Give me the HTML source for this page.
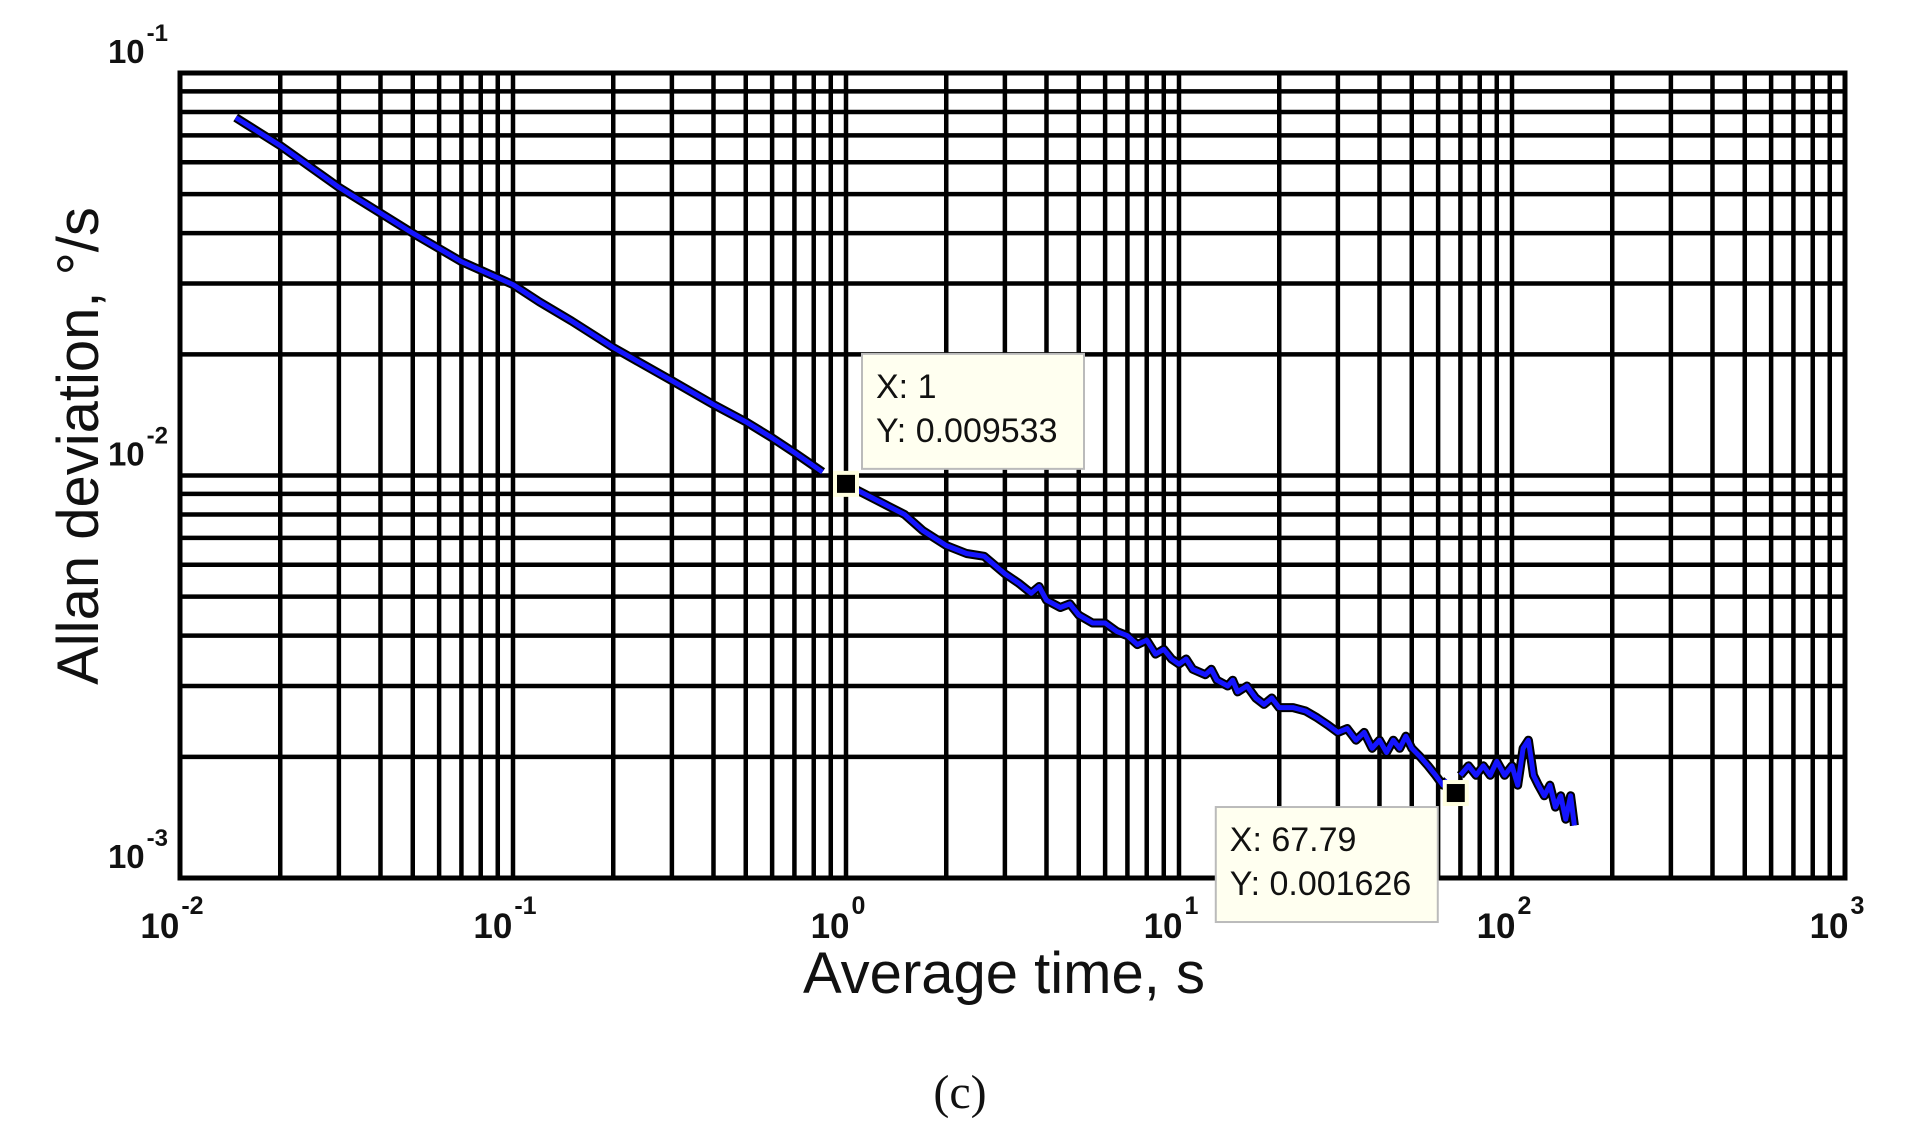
<!DOCTYPE html>
<html><head><meta charset="utf-8"><style>
html,body{margin:0;padding:0;background:#fff;}
svg{display:block;}
text{font-family:"Liberation Sans",Arial,sans-serif;fill:#111;}
</style></head>
<body>
<svg id="chart" width="1920" height="1147" viewBox="0 0 1920 1147" xmlns="http://www.w3.org/2000/svg">
<g id="grid"></g>
<g id="series"></g>
<rect x="180" y="73" width="1665" height="805" fill="none" stroke="#000" stroke-width="5"/>
<g id="ticks"></g>
<text x="1004" y="993" font-size="58" text-anchor="middle">Average time, s</text>
<text transform="translate(98,446) rotate(-90)" font-size="58" text-anchor="middle">Allan deviation, °/s</text>
<text x="960" y="1108" font-size="48" text-anchor="middle" style="font-family:'Liberation Serif',serif">(c)</text>
<g id="tips"></g>
</svg>
<script>
const xTickExps = [-2,-1,0,1,2,3];
const yTickExps = [-1,-2,-3];
const tauValues = [0.0147,0.02,0.03,0.05,0.07,0.1,0.12,0.15,0.2,0.3,0.4,0.5,0.6,0.7,0.85,0.9,
1.08,1.3,1.5,1.7,2.0,2.3,2.6,3.0,3.3,3.6,3.8,4.0,4.4,4.7,5.0,5.5,6,6.5,7,7.5,8,8.5,9,9.5,10,10.5,11,12,12.5,13,14,14.5,15,16,17,18,19,20,22,24,26,28,30,32,34,36,38,40,42,44,46,48,50,53,56,59,62,64,66,
70,74,78,82,86,90,95,100,104,108,112,116,120,125,130,135,140,145,150,154,157];
const adevValues = [0.0775,0.066,0.052,0.040,0.034,0.0298,0.027,0.0242,0.0208,0.0172,0.0150,0.0136,0.0124,0.0114,0.0102,null,
0.0092,0.0085,0.0080,0.0073,0.0067,0.0064,0.0063,0.0057,0.0054,0.0051,0.0053,0.0049,0.0047,0.0048,0.0045,0.0043,0.0043,0.0041,0.0040,0.0038,0.0039,0.0036,0.0037,0.0035,0.0034,0.0035,0.0033,0.0032,0.0033,0.0031,0.0030,0.0031,0.0029,0.0030,0.0028,0.0027,0.0028,0.00265,0.00265,0.0026,0.0025,0.0024,0.0023,0.00235,0.0022,0.0023,0.0021,0.0022,0.00205,0.0022,0.0021,0.00225,0.0021,0.0020,0.0019,0.0018,0.0017,0.00175,null,
0.0018,0.0019,0.0018,0.0019,0.0018,0.00195,0.0018,0.0019,0.0017,0.0021,0.0022,0.0018,0.0017,0.0016,0.0017,0.0015,0.0016,0.0014,0.0016,0.00135];
const markerX = [1, 67.79];
const markerY = [0.009533, 0.001626];

const NS="http://www.w3.org/2000/svg";
const L=180,R=1845,T=73,B=878, XMIN=-2,XMAX=3,YMIN=-3,YMAX=-1;
const sx=v=>L+(Math.log10(v)-XMIN)/(XMAX-XMIN)*(R-L);
const sy=v=>B-(Math.log10(v)-YMIN)/(YMAX-YMIN)*(B-T);
function mk(tag,attrs,parent){const e=document.createElementNS(NS,tag);for(const k in attrs)e.setAttribute(k,attrs[k]);parent.appendChild(e);return e;}

const grid=document.getElementById('grid');
for(let e=XMIN;e<XMAX;e++){for(let m=1;m<10;m++){const x=sx(m*Math.pow(10,e));
 const l=mk('line',{x1:x,x2:x,y1:T,y2:B,stroke:'#000','stroke-width':4.5},grid);
 
 }}
for(let e=YMIN;e<YMAX;e++){for(let m=1;m<10;m++){const y=sy(m*Math.pow(10,e));
 const l=mk('line',{x1:L,x2:R,y1:y,y2:y,stroke:'#000','stroke-width':4.5},grid);
 
 }}

const ticks=document.getElementById('ticks');
xTickExps.forEach(e=>{const x=sx(Math.pow(10,e));
 const t=mk('text',{x:x-8,y:938,'font-size':35,'text-anchor':'middle','font-weight':'bold'},ticks);
 
 
 t.textContent='10';
 const s=mk('tspan',{dx:2,dy:-24,'font-size':25},t);s.textContent=String(e);});
yTickExps.forEach(e=>{const y=sy(Math.pow(10,e));
 const t=mk('text',{x:168,y:y-10,'font-size':33,'text-anchor':'end','font-weight':'bold'},ticks);
 
 
 t.textContent='10';
 const s=mk('tspan',{dx:2,dy:-22,'font-size':24},t);s.textContent=String(e);});

const ser=document.getElementById('series');
let segs=[],cur=[];
tauValues.forEach((t,i)=>{const v=adevValues[i];if(v==null){if(cur.length)segs.push(cur);cur=[];}else cur.push(sx(t).toFixed(1)+','+sy(v).toFixed(1));});
if(cur.length)segs.push(cur);
segs.forEach(s=>{
 const a=mk('polyline',{points:s.join(' '),fill:'none',stroke:'#000','stroke-width':9,'stroke-linejoin':'round'},ser);
 
 
 const b=mk('polyline',{points:s.join(' '),fill:'none',stroke:'#1515ff','stroke-width':5,'stroke-linejoin':'round'},ser);
 
 });

const tips=document.getElementById('tips');
const boxes=[{dx:16,dy:-130,w:222,h:115},{dx:-240,dy:14,w:222,h:115}];
markerX.forEach((mx,i)=>{const x=sx(mx),y=sy(markerY[i]);
 const m=mk('rect',{x:x-11,y:y-11,width:22,height:22,fill:'#000',stroke:'#ffffe0','stroke-width':4},tips);
 
 
 const b=boxes[i];
 const g=mk('g',{},tips);
 
 
 mk('rect',{x:x+b.dx,y:y+b.dy,width:b.w,height:b.h,fill:'#fffff0',stroke:'#bbb','stroke-width':2},g);
 const t1=mk('text',{x:x+b.dx+14,y:y+b.dy+44,'font-size':34},g);t1.textContent='X: '+mx;
 const t2=mk('text',{x:x+b.dx+14,y:y+b.dy+88,'font-size':34},g);t2.textContent='Y: '+markerY[i];
});
</script>
</body></html>
